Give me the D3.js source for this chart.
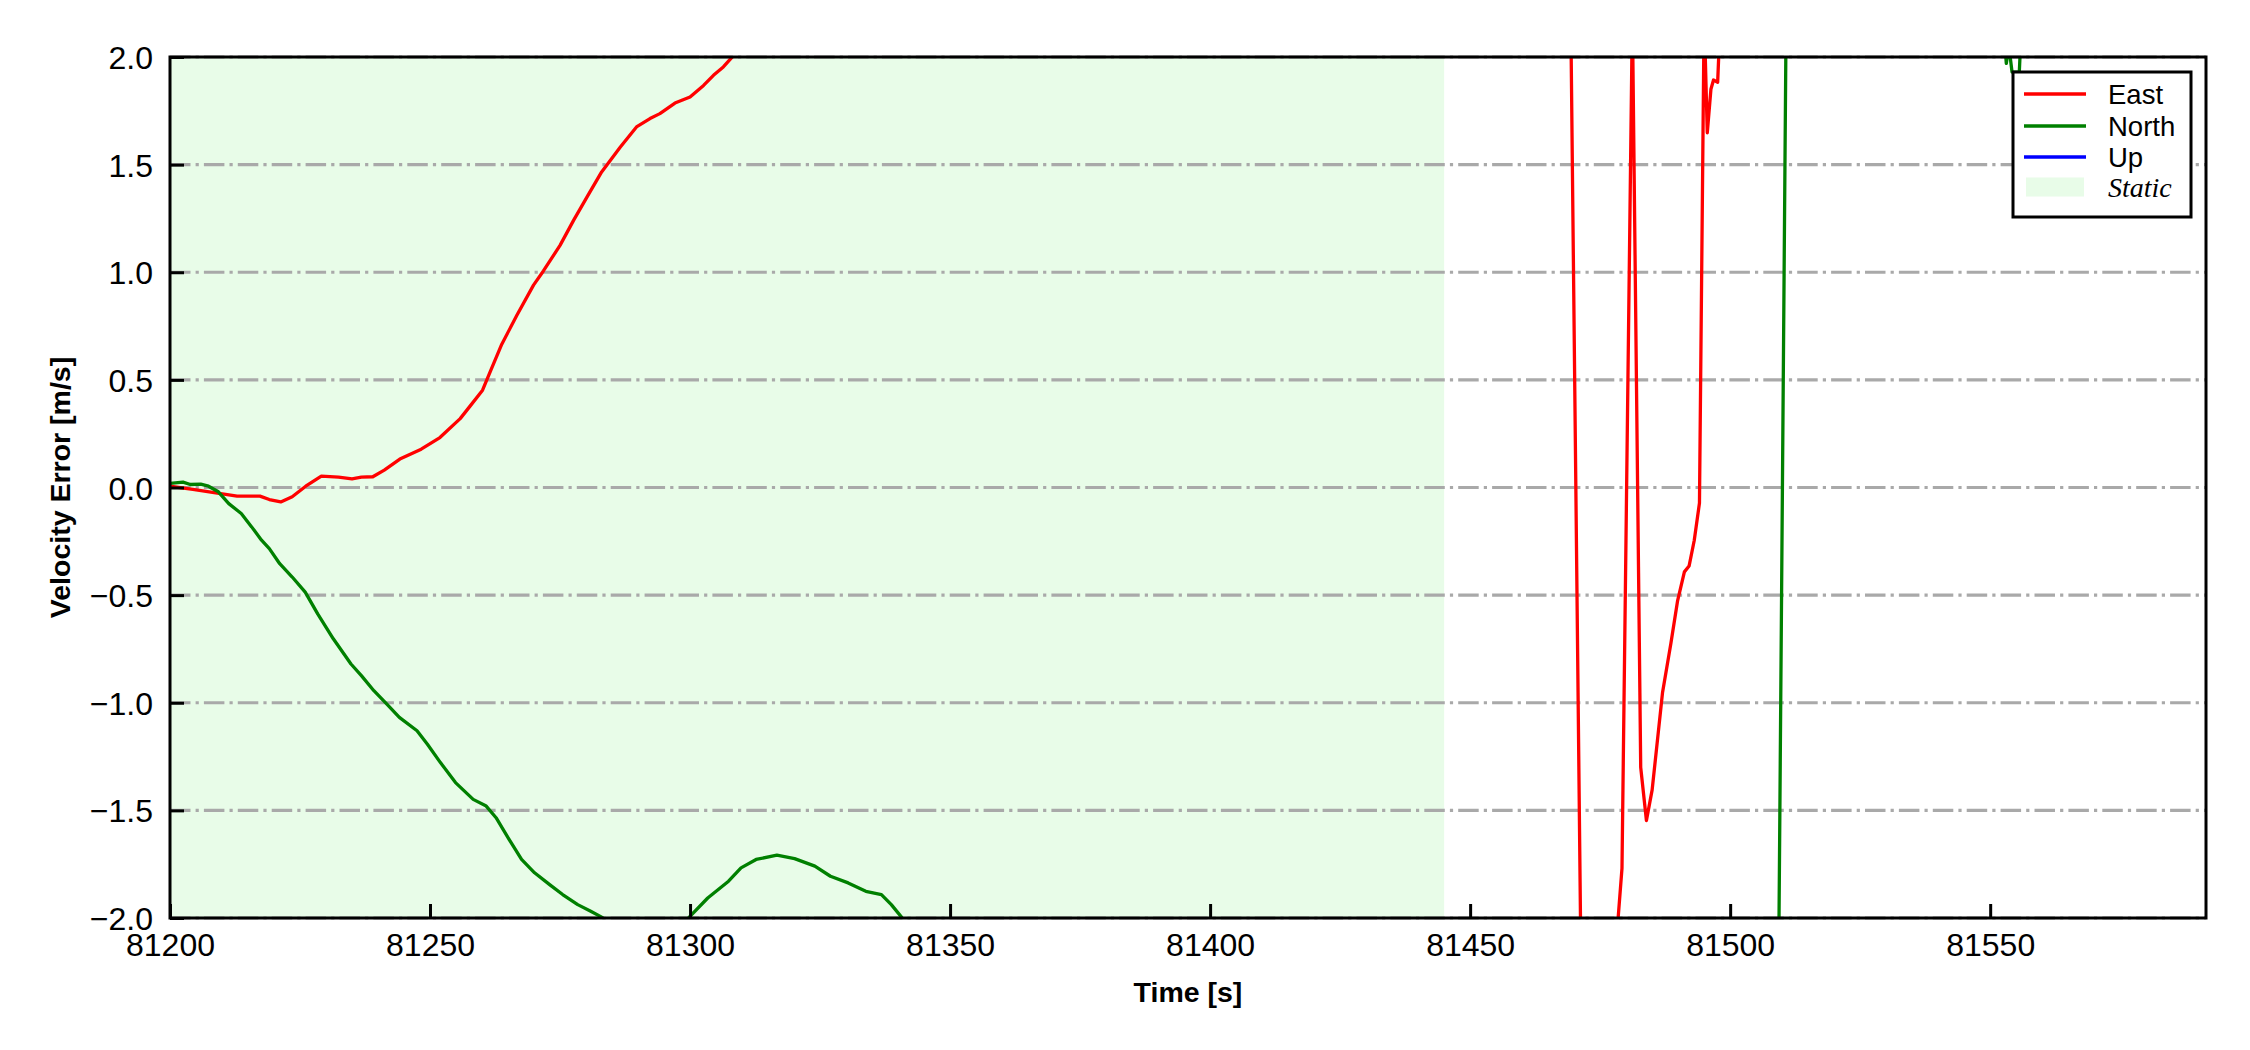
<!DOCTYPE html>
<html>
<head>
<meta charset="utf-8">
<script src="https://cdn.jsdelivr.net/npm/d3@7/dist/d3.min.js"></script>
<style>
  html, body { margin: 0; padding: 0; background: #ffffff; }
  svg { display: block; }
</style>
</head>
<body>
<svg id="chart" width="2250" height="1050"></svg>
<script>
// ---------------- data ----------------
const xTicks = [81200, 81250, 81300, 81350, 81400, 81450, 81500, 81550];
const yTicks = [-2.0, -1.5, -1.0, -0.5, 0.0, 0.5, 1.0, 1.5, 2.0];
const xDomain = [81200, 81591.5];
const yDomain = [-2, 2];
const staticSpan = [81200, 81445];

const eastT = [81200, 81204.4, 81208.8, 81212.9, 81217.3, 81219.1, 81221.3, 81223.5, 81226.1, 81229.1,
  81232.4, 81235, 81236.8, 81239, 81241.2, 81244.2, 81248.3, 81251.9, 81255.8, 81257.7,
  81260.1, 81261.7, 81263.8, 81266.7, 81269.9, 81271.8, 81275, 81277.6, 81280.2, 81283,
  81286.6, 81289.7, 81292.3, 81294.2, 81297.1, 81300, 81302.6, 81304.5, 81306.4, 81308,
  81312, 81469.3, 81471.4, 81478.3, 81479.2, 81481.2, 81482.8, 81483.9, 81485, 81487,
  81488.6, 81489.9, 81491.2, 81492.1, 81493.1, 81494.1, 81495.0, 81495.6, 81496.3, 81496.8,
  81497.6, 81498.3];
const eastV = [0.006, -0.009, -0.025, -0.04, -0.04, -0.056, -0.067, -0.043, 0.006, 0.053,
  0.048, 0.04, 0.048, 0.05, 0.081, 0.132, 0.178, 0.232, 0.320, 0.378,
  0.452, 0.545, 0.666, 0.80, 0.94, 1.006, 1.125, 1.241, 1.35, 1.466,
  1.582, 1.675, 1.714, 1.737, 1.786, 1.814, 1.868, 1.915, 1.954, 1.997,
  2.1, 2.3, -2.4, -2.05, -1.77, 2.2, -1.3, -1.547, -1.405, -0.952,
  -0.725, -0.525, -0.392, -0.365, -0.245, -0.072, 2.2, 1.648, 1.85, 1.893,
  1.883, 2.3];

const northT = [81200, 81202.5, 81203.9, 81205.9, 81207.4, 81209.3, 81211.3, 81213.7, 81215.7, 81217.6,
  81219.1, 81221.1, 81223.5, 81226, 81228.4, 81231.4, 81234.8, 81236.8, 81239.2, 81241.7,
  81244.1, 81247.5, 81249.5, 81252, 81254.9, 81258.3, 81260.8, 81262.7, 81265.2, 81267.6,
  81270.1, 81273, 81275.5, 81278.4, 81280.9, 81283.1, 81290, 81296, 81299.8, 81303.4,
  81307.4, 81309.8, 81312.7, 81316.7, 81320.1, 81324, 81327, 81330.4, 81333.8, 81336.8,
  81338.7, 81340.7, 81345, 81509.3, 81510.8, 81552.7, 81553.1, 81553.6, 81554.2, 81555.6,
  81556.1];
const northV = [0.019, 0.025, 0.014, 0.016, 0.006, -0.02, -0.075, -0.121, -0.183, -0.245,
  -0.284, -0.354, -0.416, -0.486, -0.587, -0.703, -0.82, -0.874, -0.944, -1.006,
  -1.068, -1.13, -1.193, -1.278, -1.371, -1.449, -1.48, -1.534, -1.635, -1.728,
  -1.79, -1.845, -1.891, -1.938, -1.969, -1.997, -2.2, -2.2, -1.997, -1.907,
  -1.829, -1.767, -1.728, -1.708, -1.724, -1.759, -1.806, -1.837, -1.876, -1.891,
  -1.938, -1.997, -2.2, -2.3, 2.3, 2.1, 1.97, 2.05, 1.93, 1.93,
  2.2];

// Up: no sample of this series falls inside the visible range
const upT = [];
const upV = [];

const legendLabels = ["East", "North", "Up", "Static"];
const seriesColors = ["#ff0000", "#008000", "#0000ff"];

// ---------------- layout ----------------
const svg = d3.select("#chart");
const L = 170, R = 2206, T = 57, B = 918;
const x = d3.scaleLinear().domain(xDomain).range([L, R]);
const y = d3.scaleLinear().domain(yDomain).range([B, T]);
const FONT = "'Liberation Sans', Arial, 'DejaVu Sans', sans-serif";

svg.append("defs").append("clipPath").attr("id", "plotclip")
  .append("rect").attr("x", L).attr("y", T).attr("width", R - L).attr("height", B - T);

// static span
svg.append("rect")
  .attr("x", x(staticSpan[0])).attr("y", T)
  .attr("width", x(staticSpan[1]) - x(staticSpan[0])).attr("height", B - T)
  .attr("fill", "#e8fce8");

// grid
svg.append("g").selectAll("line").data(yTicks).join("line")
  .attr("x1", L).attr("x2", R)
  .attr("y1", d => y(d)).attr("y2", d => y(d))
  .attr("stroke", "#a9a9a9").attr("stroke-width", 3.2)
  .attr("stroke-dasharray", "20.5,5.1,3.2,5.1");

// lines
const line = d3.line().x(d => x(d[0])).y(d => y(d[1]));
const series = [
  { t: eastT, v: eastV, c: seriesColors[0] },
  { t: northT, v: northV, c: seriesColors[1] },
  { t: upT, v: upV, c: seriesColors[2] }
];
const lg = svg.append("g").attr("clip-path", "url(#plotclip)");
series.forEach(s => {
  const pts = s.t.map((t, i) => [t, s.v[i]]);
  if (pts.length) {
    lg.append("path").attr("d", line(pts))
      .attr("fill", "none").attr("stroke", s.c)
      .attr("stroke-width", 3.3).attr("stroke-linejoin", "round");
  }
});

// axes
const xAxis = d3.axisBottom(x).tickValues(xTicks).tickFormat(d3.format("d"))
  .tickSize(-14).tickPadding(15);
const gx = svg.append("g").attr("transform", `translate(0,${B})`).call(xAxis);
const yAxis = d3.axisLeft(y).tickValues(yTicks).tickFormat(d3.format(".1f"))
  .tickSize(-14).tickPadding(17);
const gy = svg.append("g").attr("transform", `translate(${L},0)`).call(yAxis);
[gx, gy].forEach(g => {
  g.select(".domain").remove();
  g.selectAll(".tick line").attr("stroke", "#000").attr("stroke-width", 3);
  g.selectAll(".tick text").attr("fill", "#000")
    .style("font-family", FONT).style("font-size", "32px");
});
gy.selectAll(".tick text").attr("dy", "0.36em");

// frame
svg.append("rect").attr("x", L).attr("y", T).attr("width", R - L).attr("height", B - T)
  .attr("fill", "none").attr("stroke", "#000").attr("stroke-width", 3);

// axis labels
svg.append("text").attr("x", (L + R) / 2).attr("y", 1002)
  .attr("text-anchor", "middle").style("font-family", FONT)
  .style("font-size", "28.5px").style("font-weight", "bold").text("Time [s]");
svg.append("text")
  .attr("transform", `translate(70,${(T + B) / 2}) rotate(-90)`)
  .attr("text-anchor", "middle").style("font-family", FONT)
  .style("font-size", "28.5px").style("font-weight", "bold").text("Velocity Error [m/s]");

// legend
const leg = svg.append("g");
leg.append("rect").attr("x", 2013).attr("y", 72).attr("width", 178).attr("height", 145)
  .attr("fill", "#fff").attr("stroke", "#000").attr("stroke-width", 3);
const rowY = [94, 126, 157, 187];
legendLabels.forEach((lab, i) => {
  if (i < 3) {
    leg.append("line").attr("x1", 2024).attr("x2", 2086)
      .attr("y1", rowY[i]).attr("y2", rowY[i])
      .attr("stroke", seriesColors[i]).attr("stroke-width", 3.3);
  } else {
    leg.append("rect").attr("x", 2026).attr("y", rowY[i] - 9.5).attr("width", 58).attr("height", 19)
      .attr("fill", "#e8fce8");
  }
  const t = leg.append("text").attr("x", 2108).attr("y", rowY[i] + 10)
    .attr("fill", "#000").text(lab);
  if (i < 3) {
    t.style("font-family", FONT).style("font-size", "27.5px");
  } else {
    t.style("font-family", "'Liberation Serif', 'Times New Roman', serif")
      .style("font-style", "italic").style("font-size", "28px");
  }
});
</script>
</body>
</html>
